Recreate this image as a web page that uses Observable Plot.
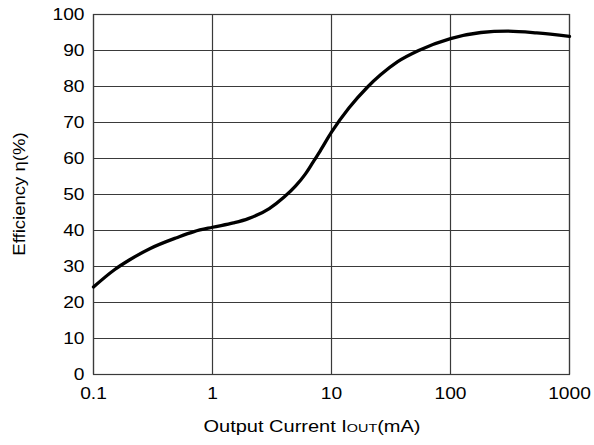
<!DOCTYPE html>
<html>
<head>
<meta charset="utf-8">
<script src="https://cdn.jsdelivr.net/npm/d3@7"></script>
<script src="https://cdn.jsdelivr.net/npm/@observablehq/plot@0.6"></script>
<style>
  html, body { margin: 0; padding: 0; background: #fff; }
  svg { display: block; }
</style>
</head>
<body>
<div id="chart"></div>
<script>
const currentMA = [0.1, 0.15, 0.2, 0.3, 0.5, 0.7, 1, 1.5, 2, 3, 4, 5, 6, 7, 8, 10, 14, 20, 26, 36, 54, 100, 180, 300, 530, 1000];
const efficiency = [24.3, 29.1, 31.8, 35.0, 38.0, 39.7, 40.9, 42.1, 43.3, 46.1, 49.3, 52.4, 55.6, 59.0, 62.0, 67.3, 74.0, 79.8, 83.3, 86.9, 90.0, 93.3, 95.0, 95.4, 94.9, 93.9];
const xTicks = [0.1, 1, 10, 100, 1000];
const xTickLabels = ["0.1", "1", "10", "100", "1000"];
const yTicks = [0, 10, 20, 30, 40, 50, 60, 70, 80, 90, 100];

const data = currentMA.map((c, i) => ({c, e: efficiency[i]}));
const gridColor = "#3a3a3a";

const chart = Plot.plot({
  width: 594,
  height: 445,
  marginLeft: 93,
  marginRight: 25,
  marginTop: 14,
  marginBottom: 71,
  style: {fontFamily: "'Liberation Sans', Arial, sans-serif", fontSize: "16px", color: "#000", background: "#fff"},
  x: {type: "log", domain: [0.1, 1000]},
  y: {domain: [0, 100]},
  marks: [
    Plot.gridX(xTicks, {stroke: gridColor, strokeOpacity: 1, strokeWidth: 1.2}),
    Plot.gridY(yTicks, {stroke: gridColor, strokeOpacity: 1, strokeWidth: 1.2}),
    Plot.frame({stroke: gridColor, strokeWidth: 1.2}),
    Plot.axisX(xTicks, {tickSize: 0, tickPadding: 13, label: null, tickFormat: (d) => xTickLabels[xTicks.indexOf(d)], fill: "#000"}),
    Plot.axisY(yTicks, {tickSize: 0, tickPadding: 9, label: null, fill: "#000"}),
    Plot.line(data, {x: "c", y: "e", stroke: "#000", strokeWidth: 3.3, curve: "monotone-x"})
  ]
});

// horizontal stretch of tick labels to match reference glyph widths
chart.querySelectorAll('[aria-label="x-axis tick label"] text, [aria-label="y-axis tick label"] text').forEach(t => {
  const tr = t.getAttribute("transform") || "";
  t.setAttribute("transform", tr + " scale(1.2,1)");
});

const svg = d3.select(chart);
const xl = svg.append("text")
  .attr("transform", "translate(312,432) scale(1.25,1)")
  .attr("text-anchor", "middle")
  .attr("fill", "#000")
  .style("font-size", "16px");
xl.append("tspan").text("Output Current I");
xl.append("tspan").attr("font-size", "11.5px").text("OUT");
xl.append("tspan").text("(mA)");

svg.append("text")
  .attr("transform", "translate(25,194) rotate(-90) scale(1.16,1)")
  .attr("text-anchor", "middle")
  .attr("fill", "#000")
  .style("font-size", "16px")
  .text("Efficiency η(%)");

document.getElementById("chart").appendChild(chart);
</script>
</body>
</html>
